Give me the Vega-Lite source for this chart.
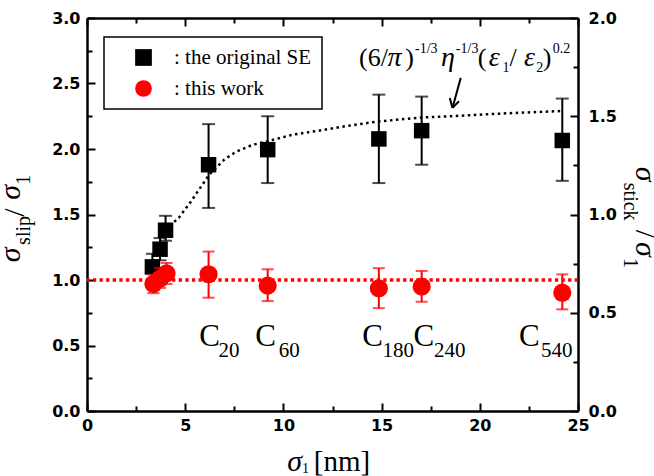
{
  "$schema": "https://vega.github.io/schema/vega-lite/v6.json",
  "width": 491,
  "height": 393,
  "autosize": {"type": "none"},
  "padding": {"left": 87, "top": 18, "right": 76, "bottom": 65},
  "background": "white",
  "config": {
    "view": {"stroke": null},
    "font": "Liberation Serif",
    "legend": {
      "strokeColor": "black",
      "strokeWidth": 1.5,
      "fillColor": "white",
      "padding": 10,
      "symbolSize": 280,
      "symbolStrokeWidth": 0,
      "labelFont": "Liberation Serif",
      "labelFontSize": 21,
      "labelColor": "black",
      "labelLimit": 400,
      "symbolOffset": 19,
      "labelOffset": 20,
      "rowPadding": 9
    }
  },
  "datasets": {
    "pts": [
      {"s": "the original SE", "x": 3.33, "y": 1.1, "lo": 1.0, "hi": 1.2},
      {"s": "the original SE", "x": 3.72, "y": 1.235, "lo": 1.15, "hi": 1.32},
      {"s": "the original SE", "x": 4.0, "y": 1.38, "lo": 1.3, "hi": 1.49},
      {"s": "the original SE", "x": 6.19, "y": 1.88, "lo": 1.55, "hi": 2.19},
      {"s": "the original SE", "x": 9.2, "y": 1.995, "lo": 1.74, "hi": 2.25},
      {"s": "the original SE", "x": 14.86, "y": 2.077, "lo": 1.74, "hi": 2.415},
      {"s": "the original SE", "x": 17.04, "y": 2.14, "lo": 1.88, "hi": 2.4},
      {"s": "the original SE", "x": 24.2, "y": 2.065, "lo": 1.757, "hi": 2.385},
      {"s": "this work", "x": 3.38, "y": 0.97, "lo": 0.9, "hi": 1.04},
      {"s": "this work", "x": 3.72, "y": 1.01, "lo": 0.94, "hi": 1.09},
      {"s": "this work", "x": 4.05, "y": 1.05, "lo": 0.97, "hi": 1.13},
      {"s": "this work", "x": 6.19, "y": 1.044, "lo": 0.865, "hi": 1.217},
      {"s": "this work", "x": 9.2, "y": 0.957, "lo": 0.839, "hi": 1.082},
      {"s": "this work", "x": 14.86, "y": 0.936, "lo": 0.785, "hi": 1.09},
      {"s": "this work", "x": 17.04, "y": 0.949, "lo": 0.834, "hi": 1.069},
      {"s": "this work", "x": 24.2, "y": 0.903, "lo": 0.776, "hi": 1.043}
    ],
    "curve": [
      {"x": 4.0, "y": 1.38}, {"x": 4.7, "y": 1.48}, {"x": 5.3, "y": 1.6}, {"x": 6.2, "y": 1.8},
      {"x": 7.0, "y": 1.92}, {"x": 7.6, "y": 1.98}, {"x": 8.4, "y": 2.03}, {"x": 9.2, "y": 2.06},
      {"x": 10.5, "y": 2.11}, {"x": 11.8, "y": 2.14}, {"x": 13.0, "y": 2.17}, {"x": 14.8, "y": 2.21},
      {"x": 17.0, "y": 2.24}, {"x": 18.5, "y": 2.25}, {"x": 21.0, "y": 2.27}, {"x": 24.2, "y": 2.29}
    ],
    "ref": [{"y": 1}],
    "arrow": [
      {"x": 19.03, "y": 2.543, "x2": 18.61, "y2": 2.314},
      {"x": 18.47, "y": 2.39, "x2": 18.61, "y2": 2.314},
      {"x": 18.94, "y": 2.364, "x2": 18.61, "y2": 2.314}
    ],
    "texts": [
      {"g": "C", "t": "C", "x": 5.71, "y": 0.5},
      {"g": "C", "t": "C", "x": 8.57, "y": 0.5},
      {"g": "C", "t": "C", "x": 14.02, "y": 0.5},
      {"g": "C", "t": "C", "x": 16.63, "y": 0.5},
      {"g": "C", "t": "C", "x": 21.99, "y": 0.5},
      {"g": "Csub", "t": "20", "x": 6.7, "y": 0.413},
      {"g": "Csub", "t": "60", "x": 9.76, "y": 0.413},
      {"g": "Csub", "t": "180", "x": 15.04, "y": 0.413},
      {"g": "Csub", "t": "240", "x": 17.67, "y": 0.413},
      {"g": "Csub", "t": "540", "x": 23.11, "y": 0.413},
      {"g": "xt_it", "t": "σ", "x": 10.2, "y": -0.46},
      {"g": "xt_up", "t": "[nm]", "x": 11.55, "y": -0.46},
      {"g": "xt_sub", "t": "1", "x": 10.95, "y": -0.476},
      {"g": "lt_it", "t": "σ", "x": -3.4, "y": 1.136},
      {"g": "lt_it", "t": "σ", "x": -3.4, "y": 1.612},
      {"g": "lt_up", "t": "/", "x": -3.21, "y": 1.482},
      {"g": "lt_sub", "t": "slip", "x": -2.91, "y": 1.268},
      {"g": "lt_sub", "t": "1", "x": -2.91, "y": 1.727},
      {"g": "rt_it", "t": "σ", "x": 27.96, "y": 1.865},
      {"g": "rt_it", "t": "σ", "x": 27.96, "y": 1.291},
      {"g": "rt_up", "t": "/", "x": 27.96, "y": 1.383},
      {"g": "rt_sub", "t": "stick", "x": 27.35, "y": 1.742},
      {"g": "rt_sub", "t": "1", "x": 27.35, "y": 1.168},
      {"g": "f_up", "t": "(6/", "x": 13.85, "y": 2.637},
      {"g": "f_up", "t": ")", "x": 16.2, "y": 2.637},
      {"g": "f_up", "t": "(", "x": 19.9, "y": 2.637},
      {"g": "f_up", "t": "/", "x": 21.51, "y": 2.637},
      {"g": "f_up", "t": ")", "x": 23.21, "y": 2.637},
      {"g": "f_it", "t": "π", "x": 15.3, "y": 2.637},
      {"g": "f_it", "t": "η", "x": 18.03, "y": 2.637},
      {"g": "f_it", "t": "ε", "x": 20.45, "y": 2.637},
      {"g": "f_it", "t": "ε", "x": 22.25, "y": 2.637},
      {"g": "f_sm", "t": "-1/3", "x": 16.7, "y": 2.73},
      {"g": "f_sm", "t": "-1/3", "x": 18.78, "y": 2.73},
      {"g": "f_sm", "t": "0.2", "x": 23.72, "y": 2.73},
      {"g": "f_sm", "t": "1", "x": 21.15, "y": 2.59},
      {"g": "f_sm", "t": "2", "x": 22.88, "y": 2.59}
    ],
    "right": [{"x": 0, "r": 0}, {"x": 25, "r": 2}]
  },
  "layer": [
    {
      "data": {"name": "ref"},
      "mark": {"type": "rule", "color": "#ff0000", "strokeWidth": 3.3, "strokeDash": [3.3, 3.3]},
      "encoding": {
        "y": {"field": "y", "type": "quantitative", "scale": {"domain": [0, 3], "nice": false}, "axis": null}
      }
    },
    {
      "data": {"name": "pts"},
      "transform": [{"filter": "datum.s === 'the original SE'"}],
      "mark": {"type": "rule", "color": "black", "strokeWidth": 2},
      "encoding": {
        "x": {"field": "x", "type": "quantitative", "axis": null},
        "y": {"field": "lo", "type": "quantitative", "scale": {"domain": [0, 3], "nice": false}, "axis": null},
        "y2": {"field": "hi"}
      }
    },
    {
      "data": {"name": "pts"},
      "transform": [{"filter": "datum.s === 'the original SE'"}, {"fold": ["lo", "hi"], "as": ["k", "v"]}],
      "mark": {"type": "tick", "orient": "horizontal", "color": "black", "size": 13, "thickness": 2},
      "encoding": {
        "x": {"field": "x", "type": "quantitative", "axis": null},
        "y": {"field": "v", "type": "quantitative", "scale": {"domain": [0, 3], "nice": false}, "axis": null}
      }
    },
    {
      "data": {"name": "curve"},
      "mark": {"type": "line", "color": "black", "strokeWidth": 2.5, "strokeDash": [2.5, 3.5]},
      "encoding": {
        "x": {"field": "x", "type": "quantitative", "axis": null},
        "y": {"field": "y", "type": "quantitative", "scale": {"domain": [0, 3], "nice": false}, "axis": null}
      }
    },
    {
      "data": {"name": "pts"},
      "transform": [{"filter": "datum.s === 'the original SE'"}],
      "mark": {"type": "point", "filled": true, "opacity": 1, "size": 240},
      "encoding": {
        "x": {
          "field": "x", "type": "quantitative",
          "scale": {"domain": [0, 25], "nice": false},
          "axis": {
            "values": [0, 2.5, 5, 7.5, 10, 12.5, 15, 17.5, 20, 22.5, 25],
            "labelExpr": "datum.value % 5 === 0 ? datum.label : ''",
            "title": null, "grid": false,
            "tickSize": -8, "tickWidth": 2, "tickColor": "black",
            "tickDash": {"condition": {"test": "datum.value % 5 !== 0", "value": [5, 20]}, "value": [20, 0]},
            "domainColor": "black", "domainWidth": 2.5,
            "labelFont": "DejaVu Sans", "labelFontWeight": "bold", "labelFontSize": 16, "labelColor": "black",
            "labelPadding": 14, "labelOverlap": false, "labelFlush": false
          }
        },
        "y": {
          "field": "y", "type": "quantitative",
          "scale": {"domain": [0, 3], "nice": false},
          "axis": {
            "values": [0, 0.25, 0.5, 0.75, 1, 1.25, 1.5, 1.75, 2, 2.25, 2.5, 2.75, 3],
            "format": ".1f",
            "labelExpr": "datum.value % 0.5 === 0 ? datum.label : ''",
            "title": null, "grid": false,
            "tickSize": -8, "tickWidth": 2, "tickColor": "black",
            "tickDash": {"condition": {"test": "datum.value % 0.5 !== 0", "value": [5, 20]}, "value": [20, 0]},
            "domainColor": "black", "domainWidth": 2.5,
            "labelFont": "DejaVu Sans", "labelFontWeight": "bold", "labelFontSize": 16, "labelColor": "black",
            "labelPadding": 15, "labelOverlap": false, "labelFlush": false
          }
        },
        "color": {
          "field": "s", "type": "nominal",
          "scale": {"domain": ["the original SE", "this work"], "range": ["#000000", "#ff0000"]},
          "legend": {"orient": "none", "legendX": 17, "legendY": 19, "title": null, "labelExpr": "': ' + datum.label"}
        },
        "shape": {
          "field": "s", "type": "nominal",
          "scale": {"domain": ["the original SE", "this work"], "range": ["square", "circle"]},
          "legend": {"orient": "none", "legendX": 17, "legendY": 19, "title": null, "labelExpr": "': ' + datum.label"}
        }
      }
    },
    {
      "data": {"name": "pts"},
      "transform": [{"filter": "datum.s === 'this work'"}],
      "mark": {"type": "rule", "color": "#ff0000", "strokeWidth": 2},
      "encoding": {
        "x": {"field": "x", "type": "quantitative", "axis": null},
        "y": {"field": "lo", "type": "quantitative", "scale": {"domain": [0, 3], "nice": false}, "axis": null},
        "y2": {"field": "hi"}
      }
    },
    {
      "data": {"name": "pts"},
      "transform": [{"filter": "datum.s === 'this work'"}, {"fold": ["lo", "hi"], "as": ["k", "v"]}],
      "mark": {"type": "tick", "orient": "horizontal", "color": "#ff0000", "size": 12, "thickness": 2},
      "encoding": {
        "x": {"field": "x", "type": "quantitative", "axis": null},
        "y": {"field": "v", "type": "quantitative", "scale": {"domain": [0, 3], "nice": false}, "axis": null}
      }
    },
    {
      "data": {"name": "pts"},
      "transform": [{"filter": "datum.s === 'this work'"}],
      "mark": {"type": "point", "filled": true, "opacity": 1, "size": 330},
      "encoding": {
        "x": {"field": "x", "type": "quantitative", "axis": null},
        "y": {"field": "y", "type": "quantitative", "scale": {"domain": [0, 3], "nice": false}, "axis": null},
        "color": {"field": "s", "type": "nominal"},
        "shape": {"field": "s", "type": "nominal"}
      }
    },
    {
      "data": {"name": "arrow"},
      "mark": {"type": "rule", "color": "black", "strokeWidth": 2},
      "encoding": {
        "x": {"field": "x", "type": "quantitative", "axis": null},
        "y": {"field": "y", "type": "quantitative", "scale": {"domain": [0, 3], "nice": false}, "axis": null},
        "x2": {"field": "x2"},
        "y2": {"field": "y2"}
      }
    },
    {
      "data": {"name": "texts"},
      "transform": [{"filter": "datum.g === 'C'"}],
      "mark": {"type": "text", "font": "Liberation Serif", "fontSize": 31, "align": "left", "baseline": "alphabetic", "color": "black"},
      "encoding": {"x": {"field": "x", "type": "quantitative", "axis": null}, "y": {"field": "y", "type": "quantitative", "scale": {"domain": [0, 3], "nice": false}, "axis": null}, "text": {"field": "t"}}
    },
    {
      "data": {"name": "texts"},
      "transform": [{"filter": "datum.g === 'Csub'"}],
      "mark": {"type": "text", "font": "Liberation Serif", "fontSize": 21, "align": "left", "baseline": "alphabetic", "color": "black"},
      "encoding": {"x": {"field": "x", "type": "quantitative", "axis": null}, "y": {"field": "y", "type": "quantitative", "scale": {"domain": [0, 3], "nice": false}, "axis": null}, "text": {"field": "t"}}
    },
    {
      "data": {"name": "texts"},
      "transform": [{"filter": "datum.g === 'xt_it'"}],
      "mark": {"type": "text", "font": "Liberation Serif", "fontSize": 30, "fontStyle": "italic", "align": "left", "baseline": "alphabetic", "color": "black"},
      "encoding": {"x": {"field": "x", "type": "quantitative", "axis": null}, "y": {"field": "y", "type": "quantitative", "scale": {"domain": [0, 3], "nice": false}, "axis": null}, "text": {"field": "t"}}
    },
    {
      "data": {"name": "texts"},
      "transform": [{"filter": "datum.g === 'xt_up'"}],
      "mark": {"type": "text", "font": "Liberation Serif", "fontSize": 29, "align": "left", "baseline": "alphabetic", "color": "black"},
      "encoding": {"x": {"field": "x", "type": "quantitative", "axis": null}, "y": {"field": "y", "type": "quantitative", "scale": {"domain": [0, 3], "nice": false}, "axis": null}, "text": {"field": "t"}}
    },
    {
      "data": {"name": "texts"},
      "transform": [{"filter": "datum.g === 'xt_sub'"}],
      "mark": {"type": "text", "font": "Liberation Serif", "fontSize": 14, "align": "left", "baseline": "alphabetic", "color": "black"},
      "encoding": {"x": {"field": "x", "type": "quantitative", "axis": null}, "y": {"field": "y", "type": "quantitative", "scale": {"domain": [0, 3], "nice": false}, "axis": null}, "text": {"field": "t"}}
    },
    {
      "data": {"name": "texts"},
      "transform": [{"filter": "datum.g === 'lt_it'"}],
      "mark": {"type": "text", "font": "Liberation Serif", "fontSize": 30, "fontStyle": "italic", "angle": 270, "align": "left", "baseline": "alphabetic", "color": "black"},
      "encoding": {"x": {"field": "x", "type": "quantitative", "axis": null}, "y": {"field": "y", "type": "quantitative", "scale": {"domain": [0, 3], "nice": false}, "axis": null}, "text": {"field": "t"}}
    },
    {
      "data": {"name": "texts"},
      "transform": [{"filter": "datum.g === 'lt_up'"}],
      "mark": {"type": "text", "font": "Liberation Serif", "fontSize": 30, "angle": 270, "align": "left", "baseline": "alphabetic", "color": "black"},
      "encoding": {"x": {"field": "x", "type": "quantitative", "axis": null}, "y": {"field": "y", "type": "quantitative", "scale": {"domain": [0, 3], "nice": false}, "axis": null}, "text": {"field": "t"}}
    },
    {
      "data": {"name": "texts"},
      "transform": [{"filter": "datum.g === 'lt_sub'"}],
      "mark": {"type": "text", "font": "Liberation Serif", "fontSize": 20, "angle": 270, "align": "left", "baseline": "alphabetic", "color": "black"},
      "encoding": {"x": {"field": "x", "type": "quantitative", "axis": null}, "y": {"field": "y", "type": "quantitative", "scale": {"domain": [0, 3], "nice": false}, "axis": null}, "text": {"field": "t"}}
    },
    {
      "data": {"name": "texts"},
      "transform": [{"filter": "datum.g === 'rt_it'"}],
      "mark": {"type": "text", "font": "Liberation Serif", "fontSize": 30, "fontStyle": "italic", "angle": 90, "align": "left", "baseline": "alphabetic", "color": "black"},
      "encoding": {"x": {"field": "x", "type": "quantitative", "axis": null}, "y": {"field": "y", "type": "quantitative", "scale": {"domain": [0, 3], "nice": false}, "axis": null}, "text": {"field": "t"}}
    },
    {
      "data": {"name": "texts"},
      "transform": [{"filter": "datum.g === 'rt_up'"}],
      "mark": {"type": "text", "font": "Liberation Serif", "fontSize": 30, "angle": 90, "align": "left", "baseline": "alphabetic", "color": "black"},
      "encoding": {"x": {"field": "x", "type": "quantitative", "axis": null}, "y": {"field": "y", "type": "quantitative", "scale": {"domain": [0, 3], "nice": false}, "axis": null}, "text": {"field": "t"}}
    },
    {
      "data": {"name": "texts"},
      "transform": [{"filter": "datum.g === 'rt_sub'"}],
      "mark": {"type": "text", "font": "Liberation Serif", "fontSize": 20, "angle": 90, "align": "left", "baseline": "alphabetic", "color": "black"},
      "encoding": {"x": {"field": "x", "type": "quantitative", "axis": null}, "y": {"field": "y", "type": "quantitative", "scale": {"domain": [0, 3], "nice": false}, "axis": null}, "text": {"field": "t"}}
    },
    {
      "data": {"name": "texts"},
      "transform": [{"filter": "datum.g === 'f_up'"}],
      "mark": {"type": "text", "font": "Liberation Serif", "fontSize": 26, "align": "left", "baseline": "alphabetic", "color": "black"},
      "encoding": {"x": {"field": "x", "type": "quantitative", "axis": null}, "y": {"field": "y", "type": "quantitative", "scale": {"domain": [0, 3], "nice": false}, "axis": null}, "text": {"field": "t"}}
    },
    {
      "data": {"name": "texts"},
      "transform": [{"filter": "datum.g === 'f_it'"}],
      "mark": {"type": "text", "font": "Liberation Serif", "fontSize": 28, "fontStyle": "italic", "align": "left", "baseline": "alphabetic", "color": "black"},
      "encoding": {"x": {"field": "x", "type": "quantitative", "axis": null}, "y": {"field": "y", "type": "quantitative", "scale": {"domain": [0, 3], "nice": false}, "axis": null}, "text": {"field": "t"}}
    },
    {
      "data": {"name": "texts"},
      "transform": [{"filter": "datum.g === 'f_sm'"}],
      "mark": {"type": "text", "font": "Liberation Serif", "fontSize": 14, "align": "left", "baseline": "alphabetic", "color": "black"},
      "encoding": {"x": {"field": "x", "type": "quantitative", "axis": null}, "y": {"field": "y", "type": "quantitative", "scale": {"domain": [0, 3], "nice": false}, "axis": null}, "text": {"field": "t"}}
    },
    {
      "data": {"name": "right"},
      "mark": {"type": "point", "opacity": 0},
      "encoding": {
        "x": {
          "field": "x", "type": "quantitative",
          "axis": {
            "orient": "top",
            "values": [0, 2.5, 5, 7.5, 10, 12.5, 15, 17.5, 20, 22.5, 25],
            "labels": false, "title": null, "grid": false,
            "tickSize": -8, "tickWidth": 2, "tickColor": "black",
            "tickDash": {"condition": {"test": "datum.value % 5 !== 0", "value": [5, 20]}, "value": [20, 0]},
            "domainColor": "black", "domainWidth": 2.5
          }
        },
        "y": {
          "field": "r", "type": "quantitative",
          "scale": {"domain": [0, 2], "nice": false},
          "axis": {
            "orient": "right",
            "values": [0, 0.25, 0.5, 0.75, 1, 1.25, 1.5, 1.75, 2],
            "format": ".1f",
            "labelExpr": "datum.value % 0.5 === 0 ? datum.label : ''",
            "title": null, "grid": false,
            "tickSize": -8, "tickWidth": 2, "tickColor": "black",
            "tickDash": {"condition": {"test": "datum.value % 0.5 !== 0", "value": [5, 20]}, "value": [20, 0]},
            "domainColor": "black", "domainWidth": 2.5,
            "labelFont": "DejaVu Sans", "labelFontWeight": "bold", "labelFontSize": 16, "labelColor": "black",
            "labelPadding": 18, "labelOverlap": false, "labelFlush": false
          }
        }
      }
    }
  ],
  "resolve": {"scale": {"y": "independent"}, "axis": {"x": "independent"}}
}
